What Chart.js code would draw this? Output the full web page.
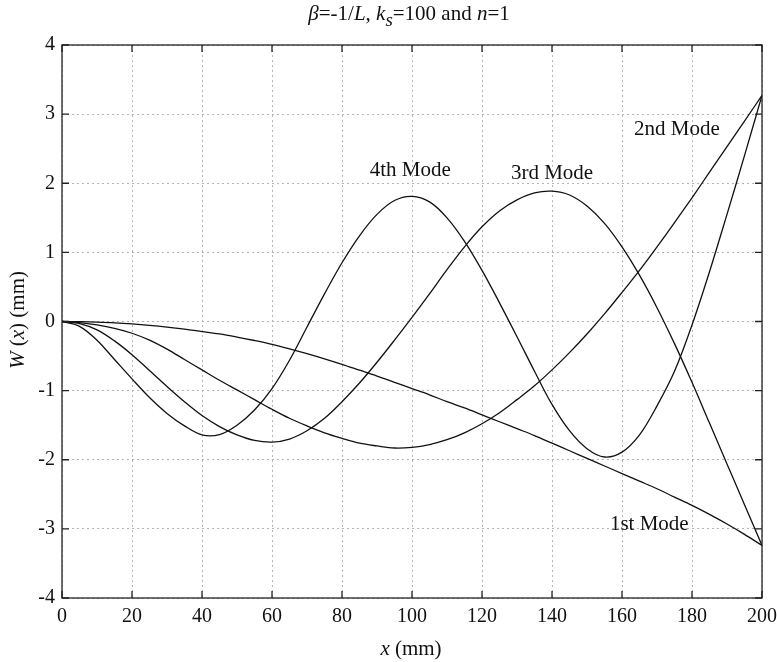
<!DOCTYPE html>
<html>
<head>
<meta charset="utf-8">
<script src="https://cdn.jsdelivr.net/npm/chart.js@4/dist/chart.umd.min.js"></script>
<style>
html, body { margin: 0; padding: 0; background: #fff; }
</style>
</head>
<body>
<canvas id="modeChart" width="777" height="662"></canvas>
<script>
// Mode shapes W(x), every 5 mm
var xValues = [0, 5, 10, 15, 20, 25, 30, 35, 40, 45, 50, 55, 60, 65, 70, 75, 80, 85, 90, 95, 100,
    105, 110, 115, 120, 125, 130, 135, 140, 145, 150, 155, 160, 165, 170, 175, 180, 185, 190, 195, 200];

var mode1 = [0, -0.003, -0.01, -0.02, -0.035, -0.055, -0.08, -0.11, -0.145, -0.18, -0.225, -0.275, -0.33, -0.395, -0.465, -0.54, -0.62, -0.705, -0.79, -0.88, -0.97,
    -1.06, -1.16, -1.25, -1.35, -1.45, -1.55, -1.65, -1.76, -1.87, -1.98, -2.09, -2.2, -2.31, -2.42, -2.54, -2.66, -2.79, -2.93, -3.08, -3.24];

var mode2 = [0, -0.015, -0.05, -0.1, -0.17, -0.27, -0.4, -0.55, -0.7, -0.85, -0.99, -1.13, -1.27, -1.4, -1.51, -1.61, -1.69, -1.76, -1.80, -1.83, -1.82,
    -1.78, -1.71, -1.61, -1.48, -1.32, -1.13, -0.93, -0.70, -0.45, -0.18, 0.11, 0.42, 0.74, 1.08, 1.43, 1.79, 2.16, 2.53, 2.9, 3.27];

var mode3 = [0, -0.03, -0.12, -0.28, -0.48, -0.71, -0.94, -1.16, -1.36, -1.52, -1.64, -1.72, -1.745, -1.70, -1.58, -1.40, -1.16, -0.89, -0.59, -0.27, 0.06,
    0.40, 0.75, 1.08, 1.37, 1.60, 1.76, 1.86, 1.885, 1.83, 1.67, 1.42, 1.08, 0.67, 0.2, -0.32, -0.88, -1.47, -2.06, -2.65, -3.24];

var mode4 = [0, -0.07, -0.27, -0.55, -0.83, -1.1, -1.33, -1.51, -1.64, -1.635, -1.5, -1.28, -0.97, -0.56, -0.08, 0.4, 0.85, 1.24, 1.55, 1.75, 1.81,
    1.73, 1.5, 1.16, 0.74, 0.27, -0.22, -0.72, -1.2, -1.58, -1.84, -1.96, -1.89, -1.64, -1.22, -0.72, -0.05, 0.72, 1.55, 2.4, 3.27];

var xTicks = [0, 20, 40, 60, 80, 100, 120, 140, 160, 180, 200];
var yTicks = [-4, -3, -2, -1, 0, 1, 2, 3, 4];

var modeNames = ['1st Mode', '2nd Mode', '3rd Mode', '4th Mode'];
var modeNameX = [167.8, 175.7, 140, 99.5];
var modeNameY = [-2.93, 2.78, 2.14, 2.19];

var serif = '"Liberation Serif", "Times New Roman", serif';

function toPoints(ys) {
    return xValues.map(function(x, i) {
        return { x: x, y: ys[i] };
    });
}

function lineSet(label, ys) {
    return {
        label: label,
        data: toPoints(ys),
        borderColor: '#111',
        borderWidth: 1.3,
        pointRadius: 0,
        tension: 0.35,
        fill: false
    };
}

// draws text made of [text, italic, subscript] pieces, centred on cx
function drawRich(ctx, parts, cx, cy, size) {
    var widths = parts.map(function(p) {
        var s = p[2] ? size * 0.9 : size;
        ctx.font = (p[1] ? 'italic ' : '') + s + 'px ' + serif;
        return ctx.measureText(p[0]).width;
    });
    var total = widths.reduce(function(a, b) { return a + b; }, 0);
    var x = cx - total / 2;
    parts.forEach(function(p, i) {
        var s = p[2] ? size * 0.9 : size;
        ctx.font = (p[1] ? 'italic ' : '') + s + 'px ' + serif;
        ctx.fillText(p[0], x, cy + (p[2] ? size * 0.35 : 0));
        x += widths[i];
    });
}

var framePlugin = {
    id: 'frame',
    afterDraw: function(chart) {
        var ctx = chart.ctx;
        var area = chart.chartArea;
        var xs = chart.scales.x;
        var ys = chart.scales.y;
        var tick = 7;

        ctx.save();
        ctx.strokeStyle = '#222';
        ctx.lineWidth = 1.3;
        ctx.strokeRect(area.left, area.top, area.right - area.left, area.bottom - area.top);

        // inward tick marks on all four sides
        ctx.beginPath();
        xTicks.forEach(function(v) {
            var px = xs.getPixelForValue(v);
            ctx.moveTo(px, area.bottom);
            ctx.lineTo(px, area.bottom - tick);
            ctx.moveTo(px, area.top);
            ctx.lineTo(px, area.top + tick);
        });
        yTicks.forEach(function(v) {
            var py = ys.getPixelForValue(v);
            ctx.moveTo(area.left, py);
            ctx.lineTo(area.left + tick, py);
            ctx.moveTo(area.right, py);
            ctx.lineTo(area.right - tick, py);
        });
        ctx.stroke();

        ctx.fillStyle = '#111';
        ctx.textAlign = 'left';
        ctx.textBaseline = 'middle';

        // title
        drawRich(ctx, [
            ['\u03b2', true], ['=-1/', false], ['L', true], [', ', false],
            ['k', true], ['s', true, true], ['=100 and ', false], ['n', true], ['=1', false]
        ], 409, 14, 21);

        // x axis title
        drawRich(ctx, [['x', true], [' (mm)', false]], 411, 649, 21);

        // y axis title
        ctx.save();
        ctx.translate(18, 320);
        ctx.rotate(-Math.PI / 2);
        drawRich(ctx, [['W', true], [' (', false], ['x', true], [') (mm)', false]], 0, 0, 21);
        ctx.restore();

        // mode names
        ctx.font = '21px ' + serif;
        ctx.textAlign = 'center';
        modeNames.forEach(function(name, i) {
            ctx.fillText(name, xs.getPixelForValue(modeNameX[i]), ys.getPixelForValue(modeNameY[i]));
        });
        ctx.restore();
    }
};

var ctx = document.getElementById('modeChart');
new Chart(ctx, {
    type: 'line',
    data: {
        datasets: [
            lineSet('1st Mode', mode1),
            lineSet('2nd Mode', mode2),
            lineSet('3rd Mode', mode3),
            lineSet('4th Mode', mode4)
        ]
    },
    options: {
        responsive: false,
        animation: false,
        devicePixelRatio: 1,
        layout: {
            padding: { left: 0, top: 45, right: 15, bottom: 0 }
        },
        plugins: {
            legend: { display: false },
            tooltip: { enabled: false }
        },
        scales: {
            x: {
                type: 'linear',
                min: 0,
                max: 200,
                afterFit: function(scale) {
                    scale.height = 64;
                    scale.paddingLeft = 0;
                    scale.paddingRight = 0;
                },
                afterBuildTicks: function(scale) {
                    scale.ticks = xTicks.map(function(v) { return { value: v }; });
                },
                ticks: {
                    color: '#111',
                    padding: 7,
                    maxRotation: 0,
                    font: { family: serif, size: 20 }
                },
                grid: {
                    color: '#b5b5b5',
                    lineWidth: 1,
                    drawTicks: false
                },
                border: { display: false, dash: [2, 3] }
            },
            y: {
                type: 'linear',
                min: -4,
                max: 4,
                afterFit: function(scale) {
                    scale.width = 62;
                    scale.paddingTop = 0;
                    scale.paddingBottom = 0;
                },
                afterBuildTicks: function(scale) {
                    scale.ticks = yTicks.map(function(v) { return { value: v }; });
                },
                ticks: {
                    color: '#111',
                    padding: 7,
                    font: { family: serif, size: 20 }
                },
                grid: {
                    color: '#b5b5b5',
                    lineWidth: 1,
                    drawTicks: false
                },
                border: { display: false, dash: [2, 3] }
            }
        }
    },
    plugins: [framePlugin]
});
</script>
</body>
</html>
